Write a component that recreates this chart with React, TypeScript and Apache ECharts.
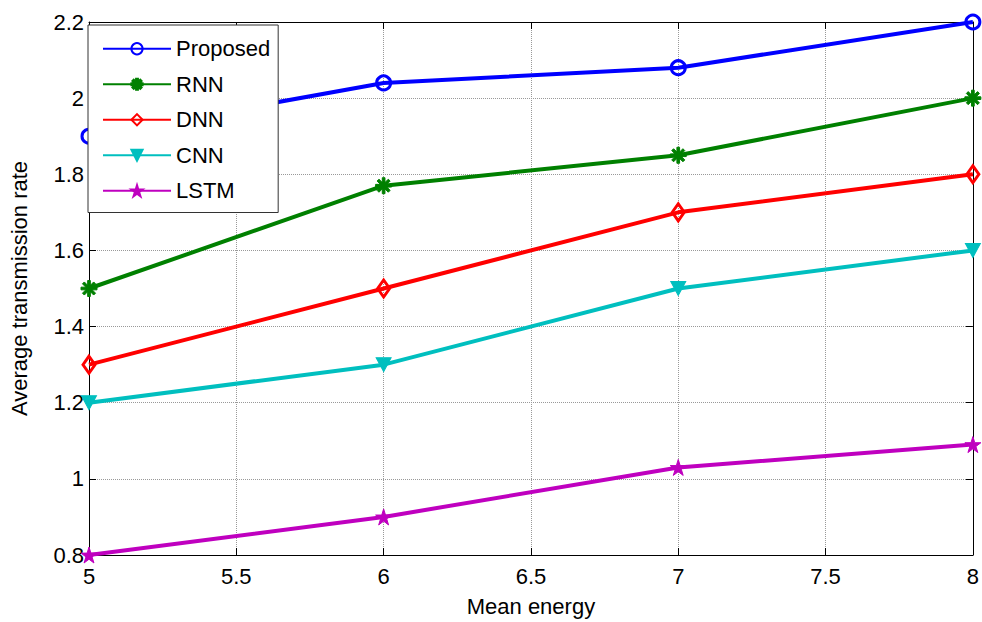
import React, { useEffect, useRef } from "react";
import * as echarts from "echarts";

const xValues = [5, 6, 7, 8];
const seriesNames = ["Proposed", "RNN", "DNN", "CNN", "LSTM"];
const proposed = [1.9, 2.04, 2.08, 2.2];
const rnn = [1.5, 1.77, 1.85, 2.0];
const dnn = [1.3, 1.5, 1.7, 1.8];
const cnn = [1.2, 1.3, 1.5, 1.6];
const lstm = [0.8, 0.9, 1.03, 1.09];

const asterisk =
  "path://M-1,-6 L1,-6 L1,6 L-1,6 Z M-6,-1 L6,-1 L6,1 L-6,1 Z M-4.9,-3.5 L-3.5,-4.9 L4.9,3.5 L3.5,4.9 Z M-4.9,3.5 L3.5,-4.9 L4.9,-3.5 L-3.5,4.9 Z";
const pentagram =
  "path://M0,-10 L2.245,-3.09 L9.51,-3.09 L3.63,1.18 L5.88,8.09 L0,3.82 L-5.88,8.09 L-3.63,1.18 L-9.51,-3.09 L-2.245,-3.09 Z";

export default function App() {
  const ref = useRef<HTMLDivElement>(null);
  useEffect(() => {
    if (!ref.current) return;
    const chart = echarts.init(ref.current, undefined, { renderer: "svg" });
    const font = "Arial, 'Liberation Sans', sans-serif";
    const mk = (
      name: string,
      data: number[],
      color: string,
      symbol: string,
      size: number | number[],
      filled: boolean,
      rotate = 0
    ) => ({
      name,
      type: "line",
      data: xValues.map((x, i) => [x, data[i]]),
      symbol,
      symbolSize: size,
      symbolRotate: rotate,
      showAllSymbol: true,
      lineStyle: { color, width: 4 },
      itemStyle: {
        color: filled ? color : "rgba(0,0,0,0)",
        borderColor: color,
        borderWidth: filled ? 1 : 3,
      },
      emphasis: { disabled: true },
      z: 3,
    });
    const axisCommon = {
      axisLine: { show: true, onZero: false, lineStyle: { color: "#000", width: 1 } },
      axisTick: { show: true, inside: true, length: 7, lineStyle: { color: "#000" } },
    };
    chart.setOption({
      animation: false,
      backgroundColor: "#fff",
      grid: { left: 83, right: 6, top: 22, bottom: 66, containLabel: false },
      legend: {
        orient: "vertical",
        left: 88,
        top: 25,
        data: seriesNames,
        backgroundColor: "#fff",
        borderColor: "#333",
        borderWidth: 1,
        padding: [12, 8, 10, 14],
        itemWidth: 68,
        itemHeight: 14,
        itemGap: 12,
        textStyle: { fontSize: 22, fontFamily: font, color: "#000", lineHeight: 23.5 },
      },
      xAxis: [
        {
          type: "value",
          min: 5,
          max: 8,
          interval: 0.5,
          name: "Mean energy",
          nameLocation: "middle",
          nameGap: 40,
          nameTextStyle: { fontSize: 22, fontFamily: font, color: "#000" },
          axisLabel: { fontSize: 22, fontFamily: font, color: "#000", margin: 10 },
          splitLine: { show: true, lineStyle: { color: "#999", type: "dotted", width: 1 } },
          ...axisCommon,
        },
        {
          type: "value",
          position: "top",
          min: 5,
          max: 8,
          interval: 0.5,
          axisLabel: { show: false },
          splitLine: { show: false },
          ...axisCommon,
        },
      ],
      yAxis: [
        {
          type: "value",
          min: 0.8,
          max: 2.2,
          interval: 0.2,
          name: "Average transmission rate",
          nameLocation: "middle",
          nameGap: 59,
          nameTextStyle: { fontSize: 22, fontFamily: font, color: "#000" },
          axisLabel: { fontSize: 22, fontFamily: font, color: "#000", margin: 5 },
          splitLine: { show: true, lineStyle: { color: "#999", type: "dotted", width: 1 } },
          ...axisCommon,
        },
        {
          type: "value",
          position: "right",
          min: 0.8,
          max: 2.2,
          interval: 0.2,
          axisLabel: { show: false },
          splitLine: { show: false },
          ...axisCommon,
        },
      ],
      series: [
        mk("Proposed", proposed, "#0000FF", "circle", 14, false),
        mk("RNN", rnn, "#008000", asterisk, 16, true),
        mk("DNN", dnn, "#FF0000", "diamond", [12, 17], false),
        mk("CNN", cnn, "#00BFBF", "triangle", [15, 14], true, 180),
        mk("LSTM", lstm, "#BF00BF", pentagram, 16, true),
      ],
    });
    return () => chart.dispose();
  }, []);
  return <div ref={ref} style={{ width: 982, height: 622, position: "absolute", left: 0, top: 0 }} />;
}
